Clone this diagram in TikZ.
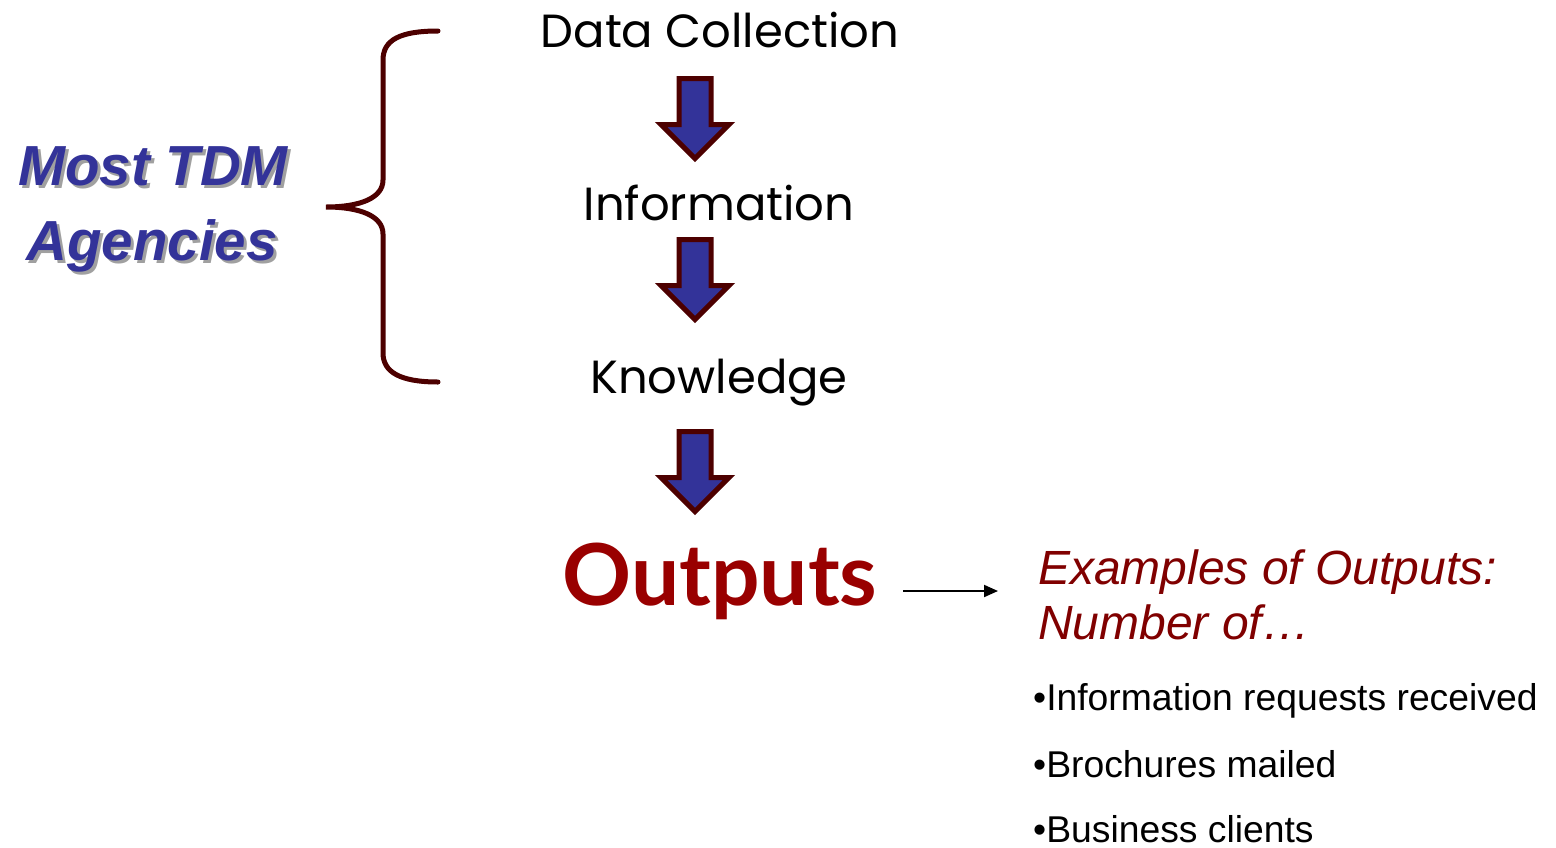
\documentclass[tikz,border=0pt]{standalone}
\usepackage{fontspec}
\setmainfont{Liberation Sans}
\newfontfamily\geofont{Poppins}
\newfontfamily\boldfont{Lato}
\usetikzlibrary{arrows.meta}
\definecolor{navy}{HTML}{333399}
\definecolor{darkmaroon}{HTML}{4D0000}
\definecolor{deepred}{HTML}{990000}
\definecolor{winered}{HTML}{800000}
\definecolor{shadowgray}{HTML}{A0A0A0}

\tikzset{
  stagetext/.style={anchor=base, inner sep=0pt, font=\geofont\fontsize{46.5}{52}\selectfont},
  tdmtext/.style={anchor=base, inner sep=0pt, text=navy, font=\bfseries\itshape\fontsize{56.5}{62}\selectfont},
  tdmshadow/.style={tdmtext, text=shadowgray},
  outtext/.style={anchor=base, inner sep=0pt, text=deepred, font=\boldfont\bfseries\fontsize{85.5}{90}\selectfont},
  exampletext/.style={anchor=base west, inner sep=0pt, text=winered, font=\itshape\fontsize{48}{54}\selectfont},
  bullettext/.style={anchor=base west, inner sep=0pt, font=\fontsize{37.3}{42}\selectfont},
  blockarrow/.style={fill=navy, draw=darkmaroon, line width=5pt, line join=miter},
  bracestyle/.style={draw=darkmaroon, line width=5pt, line cap=round},
  pointer/.style={draw=black, line width=2pt, -{Triangle[length=14pt,width=12pt]}},
  downarrow/.pic={
    \path[blockarrow] (-16,0) -- (16,0) -- (16,46) -- (34,46) -- (0,80)
      -- (-34,46) -- (-16,46) -- cycle;
  }
}

\begin{document}
\begin{tikzpicture}[x=1pt,y=-1pt]
\useasboundingbox (0,0) rectangle (1556,847);

% stages of the chain
\node[stagetext] (data) at (720,47) {Data Collection};
\node[stagetext] (info) at (719,220) {Information};
\node[stagetext] (know) at (719,393) {Knowledge};
\node[outtext] (outputs) at (720,605) {Outputs};

% block arrows between the stages
\pic at (695,78.5) {downarrow};
\pic at (695,239.5) {downarrow};
\pic at (695,431.5) {downarrow};

% label with drop shadow
\node[tdmshadow] at (156,188) {Most TDM};
\node[tdmshadow] at (155,263) {Agencies};
\node[tdmtext] (most) at (153,185) {Most TDM};
\node[tdmtext] (agencies) at (152,260) {Agencies};

% brace grouping the first three stages
\path[bracestyle] (438,31) .. controls (400,31) and (383,40) .. (383,60)
  -- (383,180) .. controls (383,198) and (360,207) .. (326,207)
  .. controls (360,207) and (383,216) .. (383,234)
  -- (383,353) .. controls (383,372) and (400,382) .. (438,382);

% pointer to the examples
\coordinate (pstart) at (903,591);
\coordinate (pend) at (998,591);
\draw[pointer] (pstart) -- (pend);

% examples
\node[exampletext] (ex1) at (1038,584) {Examples of Outputs:};
\node[exampletext] (ex2) at (1038,639) {Number of…};
\node[bullettext] (b1) at (1033,710) {•Information requests received};
\node[bullettext] (b2) at (1033,777) {•Brochures mailed};
\node[bullettext] (b3) at (1033,842) {•Business clients};
\end{tikzpicture}
\end{document}
